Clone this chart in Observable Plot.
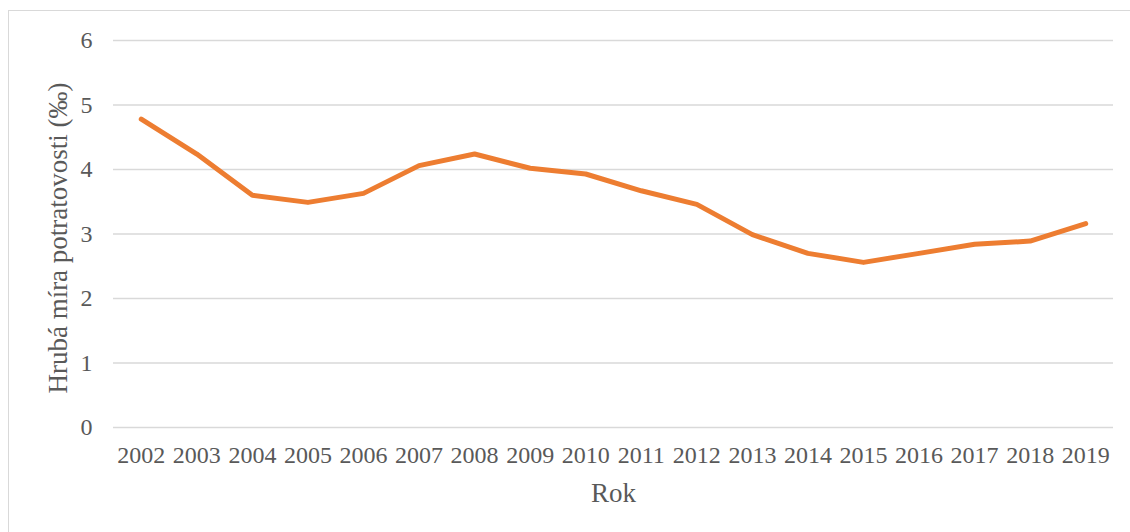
<!DOCTYPE html>
<html>
<head>
<meta charset="utf-8">
<script src="https://cdn.jsdelivr.net/npm/d3@7"></script>
<script src="https://cdn.jsdelivr.net/npm/@observablehq/plot@0.6"></script>
<style>
  html, body { margin: 0; padding: 0; background: #fff; }
  #wrap { position: relative; width: 1130px; height: 532px; overflow: hidden; }
  #border { position: absolute; left: 8px; top: 10px; width: 1200px; height: 700px;
            border-top: 1px solid #d9d9d9; border-left: 1px solid #d9d9d9; box-sizing: border-box; }
  #chart { position: absolute; left: 0; top: 0; }
</style>
</head>
<body>
<div id="wrap"><div id="border"></div><div id="chart"></div></div>
<script>
const years = ["2002","2003","2004","2005","2006","2007","2008","2009","2010","2011","2012","2013","2014","2015","2016","2017","2018","2019"];
const rates = [4.78, 4.24, 3.60, 3.49, 3.63, 4.06, 4.24, 4.02, 3.93, 3.67, 3.46, 2.99, 2.70, 2.56, 2.70, 2.84, 2.89, 3.16];
const yTicks = [0, 1, 2, 3, 4, 5, 6];
const yLabel = "Hrubá míra potratovosti (‰)";
const xLabel = "Rok";

const data = years.map((y, i) => ({year: y, rate: rates[i]}));
const font = "'Liberation Serif', 'Times New Roman', serif";

const chart = Plot.plot({
  width: 1130,
  height: 532,
  marginLeft: 113,
  marginRight: 17,
  marginTop: 40,
  marginBottom: 105,
  style: {fontFamily: font, fontSize: "24px", color: "#595959", background: "transparent"},
  x: {type: "point", domain: years, padding: 0.5, round: false},
  y: {domain: [0, 6]},
  marks: [
    Plot.ruleY(yTicks, {stroke: "#d9d9d9", strokeWidth: 1.5, strokeOpacity: 1}),
    Plot.axisY({ticks: yTicks, tickFormat: "d", tickSize: 0, tickPadding: 21, fontSize: 24, fill: "#595959", label: null}),
    Plot.axisX({tickSize: 0, tickPadding: 18, fontSize: 24, fill: "#595959", label: null}),
    Plot.text([yLabel], {frameAnchor: "left", rotate: -90, dx: -55, dy: 4, text: d => d, fontSize: 27, fill: "#595959", textAnchor: "middle", lineAnchor: "middle"}),
    Plot.text([xLabel], {frameAnchor: "bottom", dy: 66, text: d => d, fontSize: 27, fill: "#595959", textAnchor: "middle", lineAnchor: "middle"}),
    Plot.line(data, {x: "year", y: "rate", stroke: "#ED7D31", strokeWidth: 5, strokeLinecap: "round", strokeLinejoin: "round"})
  ]
});
document.getElementById("chart").appendChild(chart);
</script>
</body>
</html>
